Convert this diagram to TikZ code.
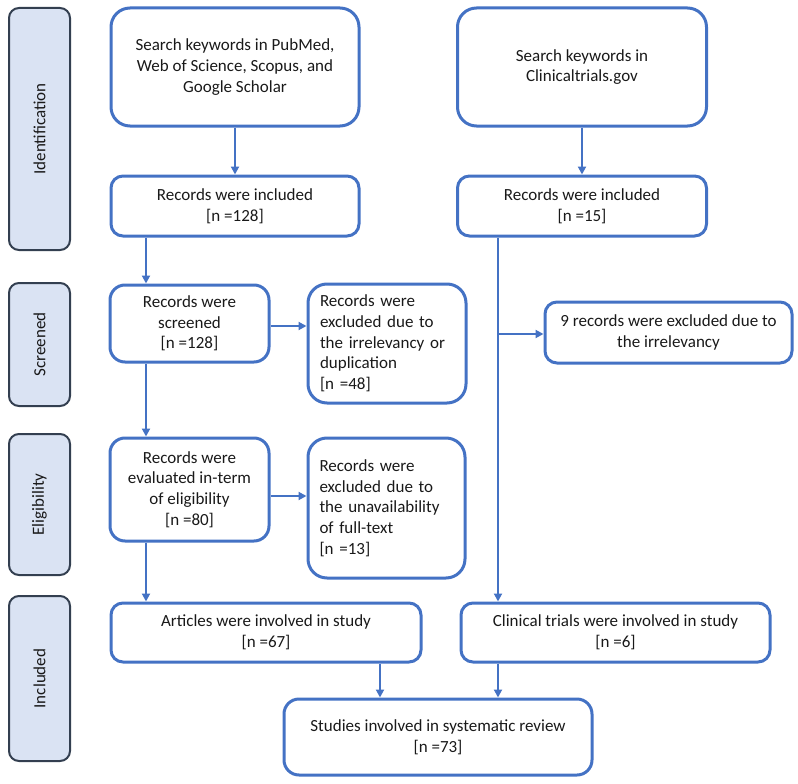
\documentclass[tikz,border=0pt]{standalone}
\usepackage{fontspec}
\setmainfont{Carlito}
\usepackage{xcolor}
\usepackage{tikz}
\usetikzlibrary{arrows.meta, positioning, calc}
\definecolor{flowblue}{HTML}{4472C4}
\definecolor{phasefill}{HTML}{DAE3F3}
\definecolor{phasedraw}{HTML}{333F50}

\begin{document}
\begin{tikzpicture}[x=1pt, y=-1pt,
  box/.style={rectangle, rounded corners=12pt, draw=flowblue, line width=3pt,
    align=center, font={\fontsize{17}{20.7}\selectfont}, text=black!90,
    inner sep=0pt},
  bigbox/.style={box, rounded corners=19pt},
  exclbox/.style={bigbox, align=left, text width=134pt},
  phase/.style={rectangle, rounded corners=10pt, draw=phasedraw, fill=phasefill,
    line width=2pt, minimum width=61pt, font={\fontsize{17}{20.7}\selectfont},
    text=black!90, inner sep=0pt},
  arr/.style={-{Triangle[length=8pt, width=8pt]}, line width=2.5pt, flowblue},
]
\useasboundingbox (0,0) rectangle (798,784);
% ====== PHASE LABELS ======
\node[phase, minimum height=242pt] (ph_id) at (39.5,129) {\rotatebox{90}{Identification}};
\node[phase, minimum height=123pt] (ph_scr) at (39.5,344.5) {\rotatebox{90}{Screened}};
\node[phase, minimum height=141pt] (ph_eli) at (39.5,504.5) {\rotatebox{90}{Eligibility}};
\node[phase, minimum height=165pt] (ph_inc) at (39.5,678.5) {\rotatebox{90}{Included}};
%
% ====== LEFT BRANCH: DATABASES ======
\node[bigbox, minimum width=248pt, minimum height=118pt] (l_search) at (235,67)
  {Search keywords in PubMed,\\Web of Science, Scopus, and\\Google Scholar};
\node[box, minimum width=248pt, minimum height=60pt] (l_rec) at (235,206)
  {Records were included\\{[}n =128{]}};
\node[box, rounded corners=15pt, minimum width=159pt, minimum height=77pt] (l_scr) at (189.5,323.5)
  {Records were\\screened\\{[}n =128{]}};
\node[exclbox, minimum width=158pt, minimum height=119pt] (l_exc1) at (387,343.5)
  {Records were\\excluded due to\\the irrelevancy or\\duplication\\{[}n =48{]}};
\node[box, rounded corners=15pt, minimum width=159pt, minimum height=103pt] (l_elig) at (189.5,489.5)
  {Records were\\evaluated in-term\\of eligibility\\{[}n =80{]}};
\node[exclbox, minimum width=157pt, minimum height=140pt] (l_exc2) at (386.5,508)
  {Records were\\excluded due to\\the unavailability\\of full-text\\{[}n =13{]}};
\node[box, minimum width=310pt, minimum height=59pt] (l_art) at (266,632.5)
  {Articles were involved in study\\{[}n =67{]}};
%
% ====== RIGHT BRANCH: TRIAL REGISTRY ======
\node[bigbox, minimum width=249pt, minimum height=118pt] (r_search) at (582,67)
  {Search keywords in\\Clinicaltrials.gov};
\node[box, minimum width=249pt, minimum height=60pt] (r_rec) at (582,206)
  {Records were included\\{[}n =15{]}};
\node[box, minimum width=247pt, minimum height=61pt] (r_exc) at (668.5,332.5)
  {9 records were excluded due to\\the irrelevancy};
\node[box, minimum width=309pt, minimum height=59pt] (r_cli) at (615.5,632.5)
  {Clinical trials were involved in study\\{[}n =6{]}};
%
% ====== MERGE ======
\node[box, rounded corners=15pt, minimum width=308pt, minimum height=76pt] (m_stud) at (438,737)
  {Studies involved in systematic review\\{[}n =73{]}};
%
% lanes for the vertical connectors
\coordinate (lane_l) at (146,0);
\coordinate (lane_r) at (498,0);
\coordinate (lane_m) at (380,0);
%
\draw[arr] (l_search) -- (l_rec);
\draw[arr] (l_rec.south -| lane_l) -- (l_scr.north -| lane_l);
\draw[arr] ([yshift=-2.5pt]l_scr.east) -- ([yshift=-2.5pt]l_scr.east -| l_exc1.west);
\draw[arr] (l_scr.south -| lane_l) -- (l_elig.north -| lane_l);
\draw[arr] ([yshift=-6.5pt]l_elig.east) -- ([yshift=-6.5pt]l_elig.east -| l_exc2.west);
\draw[arr] (l_elig.south -| lane_l) -- (l_art.north -| lane_l);
\draw[arr] (r_search) -- (r_rec);
\draw[arr] (r_rec.south -| lane_r) -- (r_cli.north -| lane_r);
\draw[arr] ([yshift=-1.5pt]r_exc.west -| lane_r) -- ([yshift=-1.5pt]r_exc.west);
\draw[arr] (l_art.south -| lane_m) -- (m_stud.north -| lane_m);
\draw[arr] (r_cli.south -| lane_r) -- (m_stud.north -| lane_r);
\end{tikzpicture}
\end{document}
